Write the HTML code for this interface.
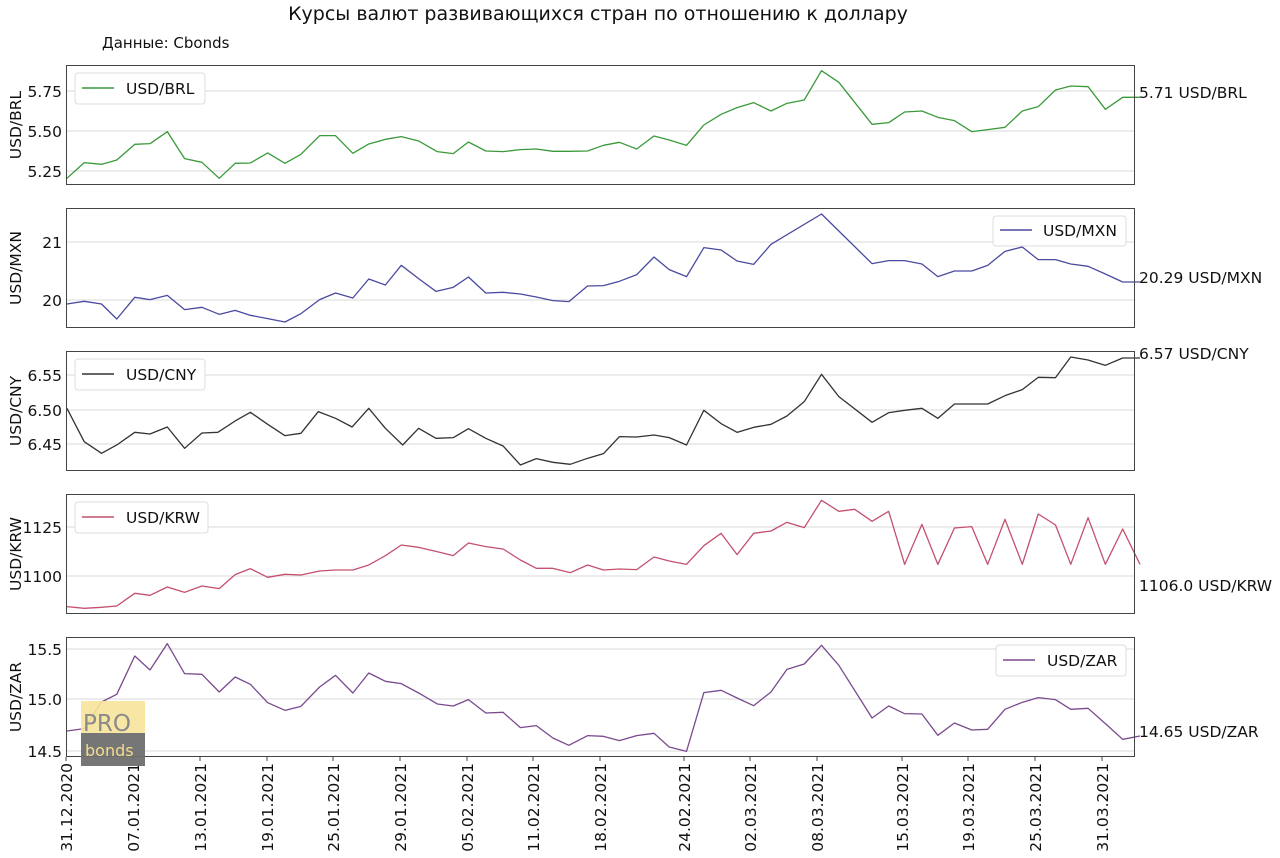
<!DOCTYPE html>
<html><head><meta charset="utf-8"><style>
html,body{margin:0;padding:0;background:#fff;}
svg{display:block;font-family:"DejaVu Sans","Liberation Sans",sans-serif;}
</style></head><body>
<svg width="1280" height="858" viewBox="0 0 1280 858" xmlns="http://www.w3.org/2000/svg">
<rect width="1280" height="858" fill="#fff"/>
<text x="598" y="20" font-size="19" text-anchor="middle" fill="#111">Курсы валют развивающихся стран по отношению к доллару</text>
<text x="102" y="48" font-size="15" fill="#111">Данные: Cbonds</text>

<g stroke="#d8d8d8" stroke-width="1">
<line x1="66" x2="1134" y1="91" y2="91"/><line x1="66" x2="1134" y1="131" y2="131"/><line x1="66" x2="1134" y1="171" y2="171"/>
<line x1="66" x2="1134" y1="242" y2="242"/><line x1="66" x2="1134" y1="300" y2="300"/>
<line x1="66" x2="1134" y1="375" y2="375"/><line x1="66" x2="1134" y1="410" y2="410"/><line x1="66" x2="1134" y1="444" y2="444"/>
<line x1="66" x2="1134" y1="527" y2="527"/><line x1="66" x2="1134" y1="576" y2="576"/>
<line x1="66" x2="1134" y1="649" y2="649"/><line x1="66" x2="1134" y1="699" y2="699"/><line x1="66" x2="1134" y1="751" y2="751"/>
</g>

<g fill="none" stroke-width="1.3" stroke-linejoin="round">
<g transform="translate(60,60) scale(0.6923,0.3333)"><polyline vector-effect="non-scaling-stroke" stroke="#3a9a3a" points="10,355 35,308 60,313 82,300 108,253 130,251 155,215 180,296 205,307 230,355 253,310 275,309 300,279 325,310 348,283 375,227 398,227 423,280 446,252 470,238 493,230 518,243 545,275 568,281 590,246 615,273 640,275 665,269 688,267 712,274 735,274 762,273 785,256 808,247 833,267 858,228 880,240 905,256 930,195 955,163 978,143 1002,128 1027,153 1050,130 1075,120 1100,32 1125,67 1173,193 1197,188 1220,156 1245,153 1268,172 1292,182 1317,215 1340,209 1365,202 1390,153 1413,140 1438,90 1460,78 1485,80 1510,148 1535,112 1560,112"/></g>
<g transform="translate(60,203) scale(0.6923,0.3333)"><polyline vector-effect="non-scaling-stroke" stroke="#4a4aa0" points="10,303 35,295 60,303 82,348 108,283 130,290 155,277 180,320 205,313 230,334 253,322 275,337 300,347 325,357 348,332 375,290 398,270 423,285 446,228 470,246 493,187 518,227 543,265 568,253 590,222 615,270 640,268 665,273 688,282 712,293 735,296 762,249 785,248 808,235 833,215 858,162 880,200 905,221 930,134 955,141 978,174 1002,184 1027,124 1100,33 1173,182 1197,173 1220,173 1245,183 1268,221 1292,204 1317,204 1340,187 1365,145 1390,132 1413,170 1438,170 1460,183 1485,190 1510,213 1535,237 1560,237"/></g>
<g transform="translate(60,345) scale(0.6923,0.3333)"><polyline vector-effect="non-scaling-stroke" stroke="#333" points="10,190 35,290 60,325 82,300 108,262 130,267 155,246 180,310 205,264 228,262 253,228 275,202 300,238 325,272 348,265 373,200 398,220 422,246 446,190 470,250 495,300 518,250 543,280 568,278 590,251 615,280 640,303 665,360 688,341 712,352 737,358 762,340 785,326 808,275 833,276 858,270 880,278 905,300 930,196 955,236 978,262 1002,247 1027,238 1050,213 1075,170 1100,88 1125,155 1173,232 1197,203 1220,196 1245,190 1268,220 1292,177 1317,177 1340,177 1365,152 1390,134 1413,97 1438,98 1460,36 1485,45 1510,61 1535,39 1560,39"/></g>
<g transform="translate(60,489) scale(0.6923,0.3333)"><polyline vector-effect="non-scaling-stroke" stroke="#c4506e" points="10,353 35,358 60,355 82,351 108,313 130,319 155,294 180,310 205,291 230,299 253,257 275,239 300,265 325,256 348,258 375,246 398,243 423,243 446,228 470,200 493,168 518,175 543,187 568,200 590,162 615,173 640,180 665,213 688,238 712,238 737,251 762,228 785,243 808,240 833,242 858,204 880,216 905,226 930,170 955,133 978,197 1002,133 1027,126 1050,100 1075,116 1100,34 1125,67 1148,61 1173,97 1197,67 1220,226 1245,106 1268,226 1292,117 1317,113 1340,226 1365,91 1390,226 1413,75 1438,108 1460,226 1485,86 1510,226 1535,120 1560,226"/></g>
<g transform="translate(60,632) scale(0.6923,0.3333)"><polyline vector-effect="non-scaling-stroke" stroke="#7a4a8e" points="10,297 35,290 60,210 82,187 108,72 130,114 155,35 180,125 205,127 230,180 253,135 275,157 300,212 325,235 348,223 375,165 398,130 423,183 446,123 470,148 493,155 518,183 545,216 568,222 590,203 615,243 640,241 665,287 688,281 712,318 735,340 762,311 785,313 808,326 833,311 858,304 880,345 905,358 930,182 955,175 978,198 1002,221 1027,180 1050,112 1075,96 1100,40 1125,100 1173,258 1197,222 1220,245 1245,246 1268,310 1292,273 1317,294 1340,292 1365,232 1390,211 1413,197 1438,203 1460,232 1485,229 1510,275 1535,322 1560,312"/></g>
</g>

<g fill="none" stroke="#444" stroke-width="1">
<rect x="66.5" y="65.5" width="1068" height="119"/>
<rect x="66.5" y="208.5" width="1068" height="119"/>
<rect x="66.5" y="351.5" width="1068" height="119"/>
<rect x="66.5" y="494.5" width="1068" height="119"/>
<rect x="66.5" y="637.5" width="1068" height="119"/>
</g>

<g font-size="15.5" fill="#111">
<rect x="75" y="73" width="130" height="31" fill="#fff" stroke="#ddd" rx="3"/><line x1="82" x2="114" y1="88" y2="88" stroke="#3a9a3a" stroke-width="1.5"/><text x="126" y="94">USD/BRL</text>
<rect x="993" y="216" width="133" height="30" fill="#fff" stroke="#ddd" rx="3"/><line x1="1000" x2="1032" y1="230" y2="230" stroke="#4a4aa0" stroke-width="1.5"/><text x="1043" y="236">USD/MXN</text>
<rect x="75" y="359" width="130" height="31" fill="#fff" stroke="#ddd" rx="3"/><line x1="82" x2="114" y1="374" y2="374" stroke="#333" stroke-width="1.5"/><text x="126" y="380">USD/CNY</text>
<rect x="75" y="502" width="133" height="31" fill="#fff" stroke="#ddd" rx="3"/><line x1="82" x2="114" y1="517" y2="517" stroke="#c4506e" stroke-width="1.5"/><text x="126" y="523">USD/KRW</text>
<rect x="996" y="645" width="130" height="31" fill="#fff" stroke="#ddd" rx="3"/><line x1="1003" x2="1035" y1="660" y2="660" stroke="#7a4a8e" stroke-width="1.5"/><text x="1047" y="666">USD/ZAR</text>
</g>

<g font-size="15.5" fill="#111" text-anchor="end">
<text x="62" y="97">5.75</text><text x="62" y="137">5.50</text><text x="62" y="177">5.25</text>
<text x="62" y="248">21</text><text x="62" y="306">20</text>
<text x="62" y="381">6.55</text><text x="62" y="416">6.50</text><text x="62" y="450">6.45</text>
<text x="62" y="533">1125</text><text x="62" y="582">1100</text>
<text x="62" y="655">15.5</text><text x="62" y="705">15.0</text><text x="62" y="757">14.5</text>
</g>

<g font-size="15.5" fill="#111" text-anchor="middle">
<text transform="translate(21,125) rotate(-90)">USD/BRL</text>
<text transform="translate(21,268) rotate(-90)">USD/MXN</text>
<text transform="translate(21,411) rotate(-90)">USD/CNY</text>
<text transform="translate(21,554) rotate(-90)">USD/KRW</text>
<text transform="translate(21,697) rotate(-90)">USD/ZAR</text>
</g>

<g font-size="15.5" fill="#111">
<text x="1139" y="98">5.71 USD/BRL</text>
<text x="1139" y="283">20.29 USD/MXN</text>
<text x="1139" y="359">6.57 USD/CNY</text>
<text x="1139" y="591">1106.0 USD/KRW</text>
<text x="1139" y="737">14.65 USD/ZAR</text>
</g>

<g stroke="#444">
<line x1="66" x2="66" y1="757" y2="761"/><line x1="133" x2="133" y1="757" y2="761"/><line x1="200" x2="200" y1="757" y2="761"/><line x1="267" x2="267" y1="757" y2="761"/><line x1="333" x2="333" y1="757" y2="761"/><line x1="400" x2="400" y1="757" y2="761"/><line x1="467" x2="467" y1="757" y2="761"/><line x1="533" x2="533" y1="757" y2="761"/><line x1="600" x2="600" y1="757" y2="761"/><line x1="684" x2="684" y1="757" y2="761"/><line x1="750" x2="750" y1="757" y2="761"/><line x1="817" x2="817" y1="757" y2="761"/><line x1="902" x2="902" y1="757" y2="761"/><line x1="968" x2="968" y1="757" y2="761"/><line x1="1035" x2="1035" y1="757" y2="761"/><line x1="1102" x2="1102" y1="757" y2="761"/>
</g>
<g font-size="15.5" fill="#111" text-anchor="end">
<text transform="translate(72,763) rotate(-90)">31.12.2020</text>
<text transform="translate(139,763) rotate(-90)">07.01.2021</text>
<text transform="translate(206,763) rotate(-90)">13.01.2021</text>
<text transform="translate(273,763) rotate(-90)">19.01.2021</text>
<text transform="translate(339,763) rotate(-90)">25.01.2021</text>
<text transform="translate(406,763) rotate(-90)">29.01.2021</text>
<text transform="translate(473,763) rotate(-90)">05.02.2021</text>
<text transform="translate(539,763) rotate(-90)">11.02.2021</text>
<text transform="translate(606,763) rotate(-90)">18.02.2021</text>
<text transform="translate(690,763) rotate(-90)">24.02.2021</text>
<text transform="translate(756,763) rotate(-90)">02.03.2021</text>
<text transform="translate(823,763) rotate(-90)">08.03.2021</text>
<text transform="translate(908,763) rotate(-90)">15.03.2021</text>
<text transform="translate(974,763) rotate(-90)">19.03.2021</text>
<text transform="translate(1041,763) rotate(-90)">25.03.2021</text>
<text transform="translate(1108,763) rotate(-90)">31.03.2021</text>
</g>

<rect x="81" y="701" width="64" height="32" fill="#f6e39a" opacity="0.9"/>
<rect x="81" y="733" width="64" height="33" fill="#6f6f6f" opacity="0.95"/>
<text x="83" y="731" font-size="23" fill="#8a8a8a">PRO</text>
<text x="85" y="756" font-size="16" fill="#f3dc8c">bonds</text>
</svg>
</body></html>
